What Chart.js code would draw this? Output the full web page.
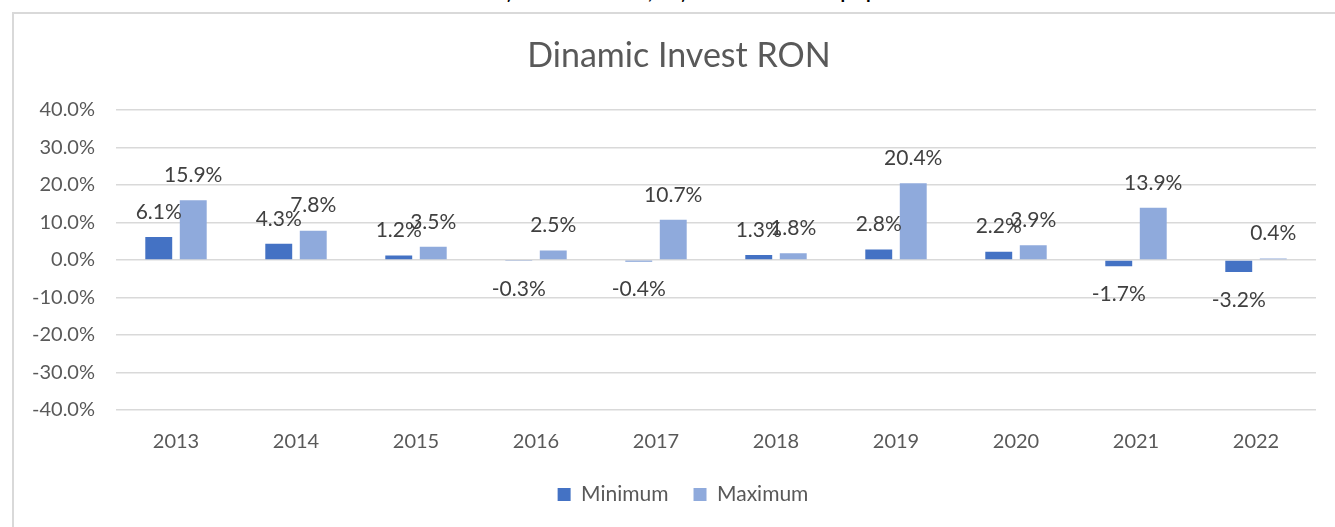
<!DOCTYPE html>
<html>
<head>
<meta charset="utf-8">
<script src="https://cdn.jsdelivr.net/npm/chart.js@4"></script>
<style>
  html, body { margin: 0; padding: 0; background: #fff; overflow: hidden; }
  #wrap { position: relative; width: 1335px; height: 527px; }
  #heading {
    position: absolute; left: 0; width: 1335px; top: -20px;
    text-align: center; font: bold 19px Lato, sans-serif; color: #000;
  }
  #frame {
    position: absolute; left: 12px; top: 12px; width: 1340px; height: 600px;
    border: 2px solid #d9d9d9; box-sizing: border-box;
  }
  canvas { position: absolute; left: 0; top: 0; }
</style>
</head>
<body>
<div id="wrap">
  <div id="heading">Rentabilitatea minimă și maximă anuală, obținută în fiecare an pe perioada analizată</div>
  <div id="frame"></div>
  <canvas id="dinamicChart" width="1335" height="527"></canvas>
</div>
<script>
// date (procente)
const years = ['2013', '2014', '2015', '2016', '2017', '2018', '2019', '2020', '2021', '2022'];
const minimum = [6.1, 4.3, 1.2, -0.3, -0.4, 1.3, 2.8, 2.2, -1.7, -3.2];
const maximum = [15.9, 7.8, 3.5, 2.5, 10.7, 1.8, 20.4, 3.9, 13.9, 0.4];
const yTicks = [-40, -30, -20, -10, 0, 10, 20, 30, 40];

const fontFamily = 'Lato, "Open Sans", sans-serif';

// etichete de valoare deasupra / sub bare
const barLabels = {
  id: 'barLabels',
  afterDatasetsDraw(chart) {
    const ctx = chart.ctx;
    ctx.save();
    ctx.font = '21px ' + fontFamily;
    ctx.fillStyle = '#404040';
    ctx.textAlign = 'center';
    ctx.textBaseline = 'middle';
    chart.data.datasets.forEach((ds, i) => {
      const meta = chart.getDatasetMeta(i);
      meta.data.forEach((bar, j) => {
        const v = ds.data[j];
        const y = v >= 0 ? bar.y - 25 : bar.y + 28;
        ctx.fillText(v.toFixed(1) + '%', bar.x, y);
      });
    });
    ctx.restore();
  }
};

// titlul si legenda sunt centrate pe cadru, nu pe zona graficului
const shiftBoxes = {
  id: 'shiftBoxes',
  afterLayout(chart) {
    const t = chart.titleBlock;
    if (t) { t.left += 21; t.right += 21; }
    const l = chart.legend;
    if (l) { l.left += 25; l.right += 25; }
  }
};

const ctx = document.getElementById('dinamicChart').getContext('2d');
new Chart(ctx, {
  type: 'bar',
  data: {
    labels: years,
    datasets: [
      {
        label: 'Minimum',
        data: minimum,
        backgroundColor: '#4472C4',
        categoryPercentage: 0.575,
        barPercentage: 0.78,
      },
      {
        label: 'Maximum',
        data: maximum,
        backgroundColor: '#8FAADC',
        categoryPercentage: 0.575,
        barPercentage: 0.78,
      },
    ],
  },
  options: {
    responsive: false,
    animation: false,
    layout: { padding: { left: 0, right: 19, top: 0, bottom: 12 } },
    scales: {
      x: {
        grid: { display: false, drawTicks: false },
        border: { display: false },
        ticks: { color: '#595959', font: { family: fontFamily, size: 20 }, padding: 20 },
        afterFit: (scale) => { scale.height = 49; },
      },
      y: {
        min: -40,
        max: 40,
        afterBuildTicks: (scale) => { scale.ticks = yTicks.map((v) => ({ value: v })); },
        grid: { color: '#d9d9d9', lineWidth: 1.5, drawTicks: false },
        border: { display: false },
        ticks: {
          color: '#595959',
          font: { family: fontFamily, size: 20 },
          padding: 21,
          callback: (v) => v.toFixed(1) + '%',
        },
        afterFit: (scale) => { scale.width = 116; },
      },
    },
    plugins: {
      title: {
        display: true,
        text: 'Dinamic Invest RON',
        color: '#595959',
        font: { family: fontFamily, size: 34, weight: 'normal' },
        padding: { top: 36, bottom: 33 },
      },
      legend: {
        position: 'bottom',
        labels: {
          color: '#595959',
          font: { family: fontFamily, size: 21 },
          boxWidth: 13,
          boxHeight: 13,
          padding: 25,
        },
      },
      tooltip: { enabled: false },
    },
  },
  plugins: [barLabels, shiftBoxes],
});
</script>
</body>
</html>
